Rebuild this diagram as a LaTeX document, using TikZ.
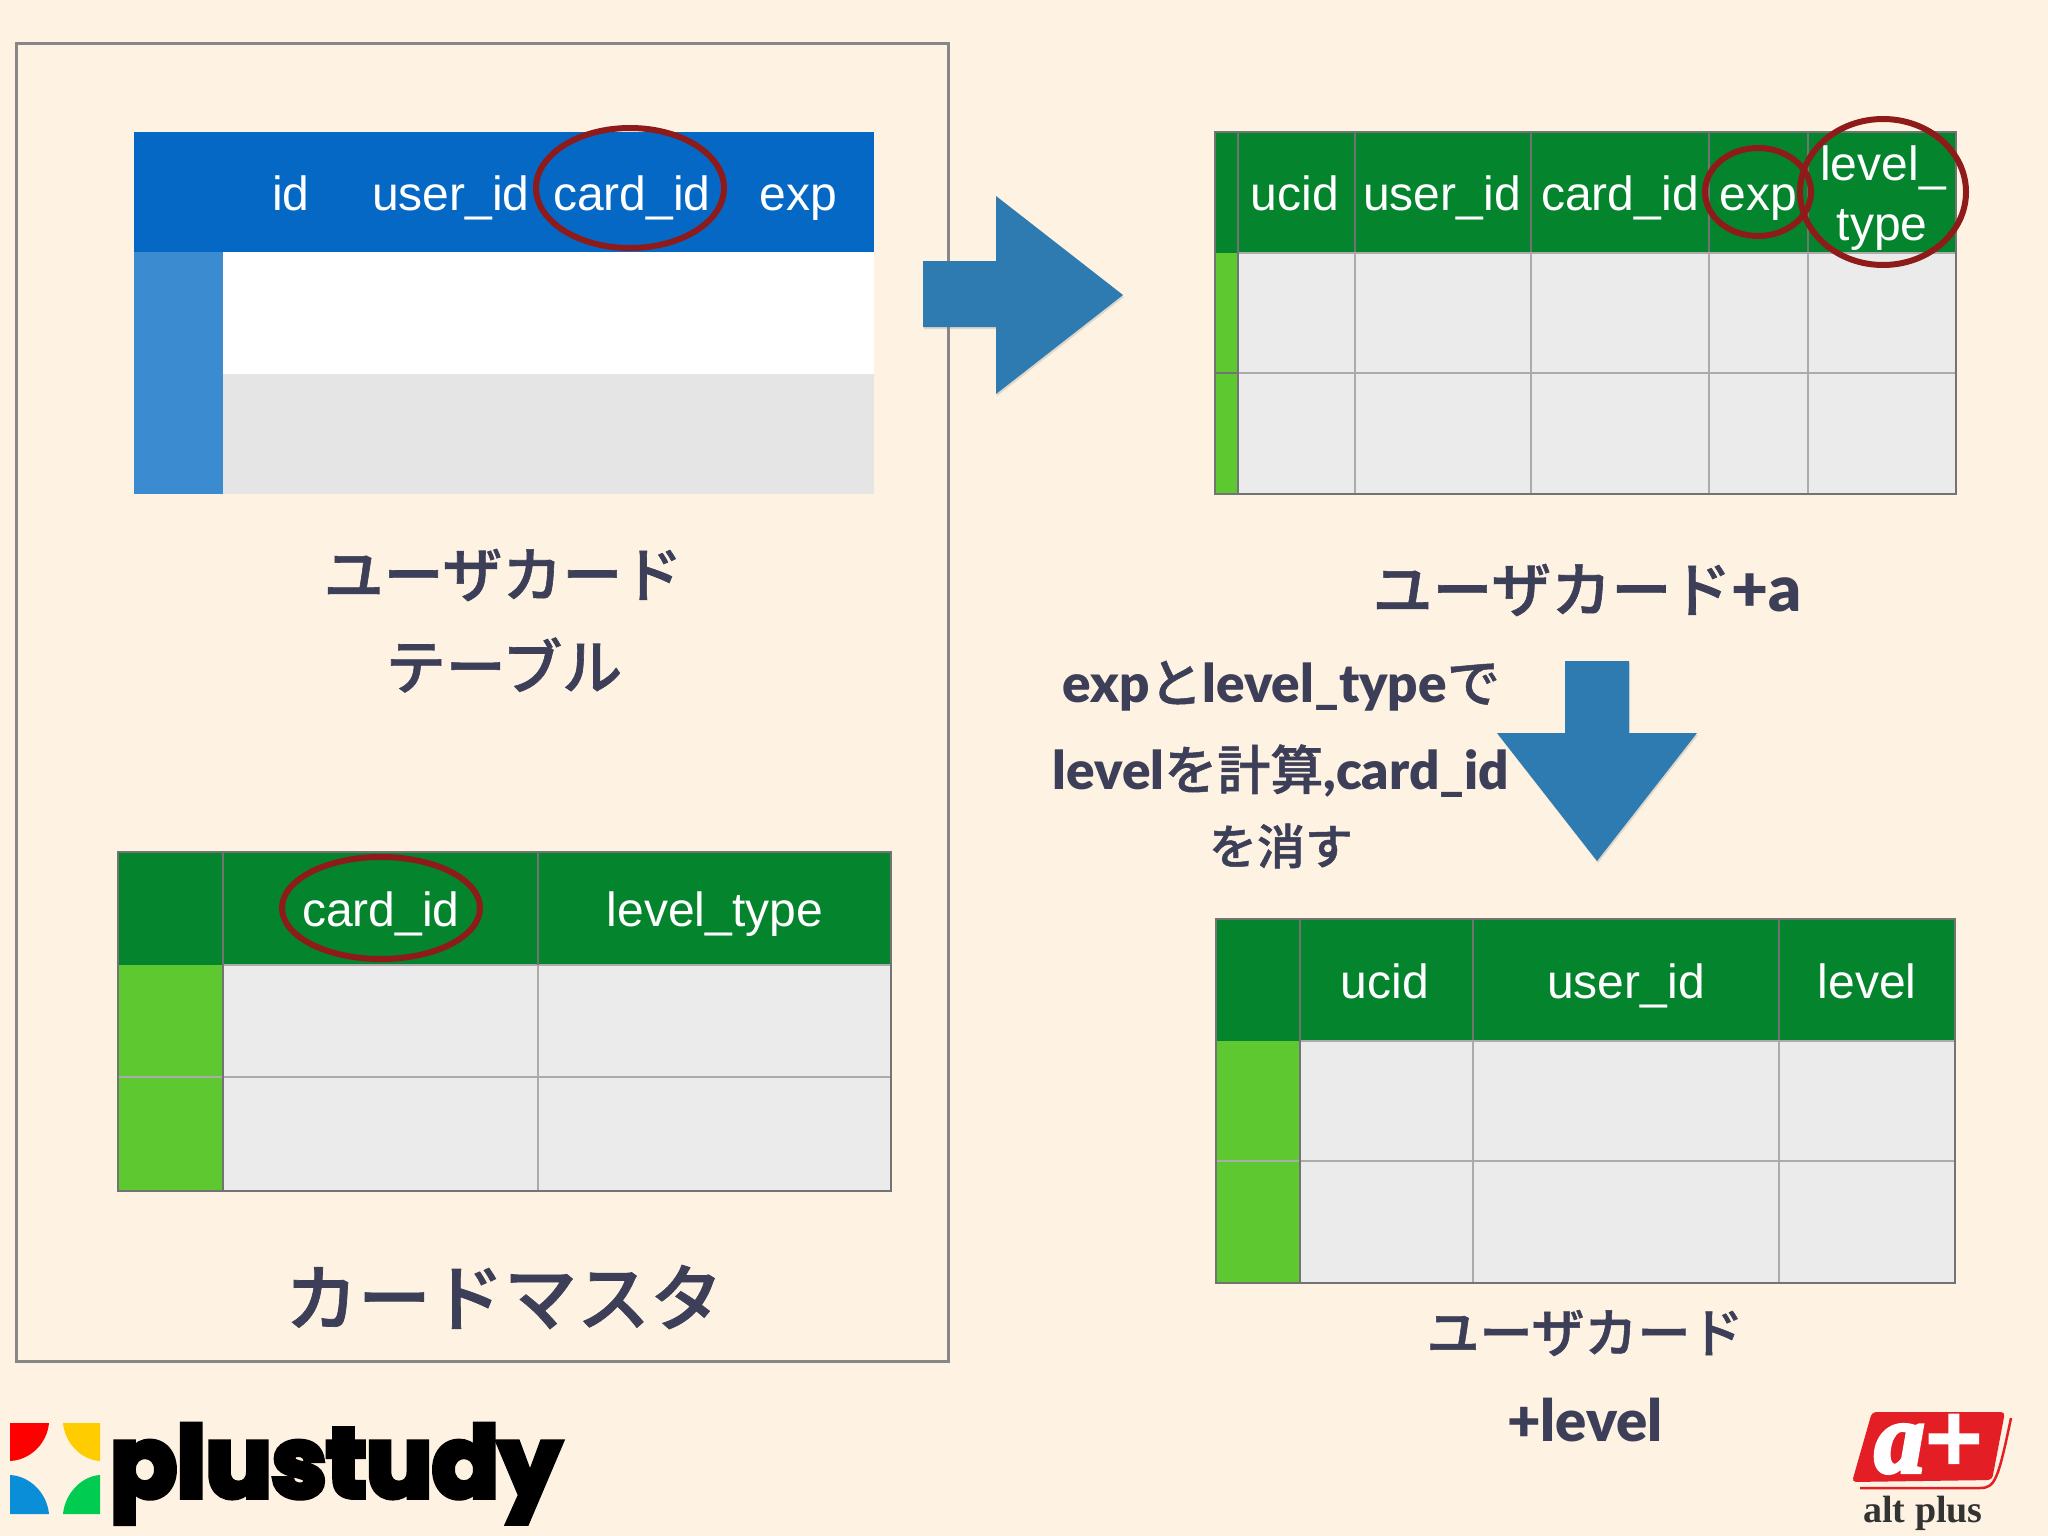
\documentclass[tikz,border=0pt]{standalone}
\usepackage{fontspec}
\usetikzlibrary{shapes.geometric,shadows}
\setmainfont[BoldFont=Lato Black]{Lato}
\newfontfamily\cellfont{Liberation Sans}
\newfontfamily\jpfont[BoldFont=Noto Sans CJK JP Medium,BoldFeatures={FakeBold=1}]{Noto Sans CJK JP}
\newfontfamily\logofont[FakeBold=6]{Poppins}
\newfontfamily\altfont{Liberation Serif}
\newfontfamily\aplusfont[FakeBold=4]{Liberation Serif}
\definecolor{paper}{HTML}{FEF3E2}
\definecolor{hdblue}{HTML}{0568C5}
\definecolor{sideblue}{HTML}{3B8BD0}
\definecolor{hdgreen}{HTML}{04842C}
\definecolor{sidegreen}{HTML}{5EC831}
\definecolor{cellgrey}{HTML}{EBEBEB}
\definecolor{linegrey}{HTML}{ABABAB}
\definecolor{ringred}{HTML}{8E1A1A}
\definecolor{arrowblue}{HTML}{2E7BB2}
\definecolor{ink}{HTML}{3D3F58}
\definecolor{altred}{HTML}{E31E24}
\begin{document}
\begin{tikzpicture}[x=1pt,y=-1pt]
\tikzstyle{cell}=[anchor=base, inner sep=0pt, text=white, font=\cellfont\fontsize{48}{50}\selectfont]
\tikzstyle{ring}=[ellipse, draw=ringred, line width=6pt, inner sep=0pt]
\tikzstyle{big}=[inner sep=0pt, text=ink, font=\bfseries\fontsize{53}{58}\selectfont]
\tikzstyle{grid}=[draw=linegrey, line width=1.5pt]
\tikzstyle{rim}=[draw=black!55, line width=2pt]
\tikzstyle{arrow}=[fill=arrowblue, drop shadow={shadow xshift=1pt, shadow yshift=-2pt, opacity=.25}]
\useasboundingbox (0,0) rectangle (2048,1536);
\fill[paper] (0,0) rectangle (2048,1536);
\draw[draw=black!47, line width=3pt] (16,44) rectangle (948,1361);
% blue table
\fill[hdblue] (134,132) rectangle (874,252);
\fill[white] (223,252) rectangle (874,374);
\fill[black!10] (223,374) rectangle (874,494);
\fill[sideblue] (134,252) rectangle (223,494);
\node[cell] (bid) at (291,210){id};
\node[cell] (buser) at (451,210){user\_id};
\node[cell] (bcard) at (632,210){card\_id};
\node[cell] (bexp) at (798,210){exp};
% green table, top right
\fill[hdgreen] (1215,132) rectangle (1956,253);
\fill[cellgrey] (1238,253) rectangle (1956,494);
\fill[sidegreen] (1215,253) rectangle (1238,494);
\foreach \i in {1355,1531,1709,1808}{
	\draw[grid] (\i,253) -- (\i,494);
	\draw[rim] (\i,132) -- (\i,253);}
\draw[grid] (1238,373) -- (1956,373);
\draw[grid] (1238,253) -- (1956,253);
\draw[rim] (1215,373) -- (1238,373);
\draw[rim] (1238,132) -- (1238,494);
\draw[rim] (1215,132) rectangle (1956,494);
\node[cell] (tucid) at (1295,210){ucid};
\node[cell] (tuser) at (1442,210){user\_id};
\node[cell] (tcard) at (1620,210){card\_id};
\node[cell] (texp) at (1758,210){exp};
\node[cell] (tlevel) at (1883,180){level\_};
\node[cell] (ttype) at (1882,240){type};
% green table, bottom left
\fill[hdgreen] (118,852) rectangle (891,965);
\fill[cellgrey] (223,965) rectangle (891,1191);
\fill[sidegreen] (118,965) rectangle (223,1191);
\draw[grid] (538,965) -- (538,1191);
\draw[grid] (118,1077) -- (891,1077);
\draw[grid] (223,965) -- (891,965);
\draw[rim] (538,852) -- (538,965);
\draw[rim] (223,852) -- (223,1191);
\draw[rim] (118,852) rectangle (891,1191);
\node[cell] (mcard) at (381,926){card\_id};
\node[cell] (mlevel) at (715,926){level\_type};
% green table, bottom right
\fill[hdgreen] (1216,919) rectangle (1955,1041);
\fill[cellgrey] (1300,1041) rectangle (1955,1283);
\fill[sidegreen] (1216,1041) rectangle (1300,1283);
\foreach \i in {1473,1779}{
	\draw[grid] (\i,1041) -- (\i,1283);
	\draw[rim] (\i,919) -- (\i,1041);}
\draw[grid] (1216,1161) -- (1955,1161);
\draw[grid] (1300,1041) -- (1955,1041);
\draw[rim] (1300,919) -- (1300,1283);
\draw[rim] (1216,919) rectangle (1955,1283);
\node[cell] (ducid) at (1385,998){ucid};
\node[cell] (duser) at (1626,998){user\_id};
\node[cell] (dlevel) at (1867,998){level};
% rings
\node[ring, minimum width=188pt, minimum height=120pt] (rb) at (630,188){};
\node[ring, minimum width=106pt, minimum height=88pt] (re) at (1758,192){};
\node[ring, minimum width=166pt, minimum height=146pt] (rl) at (1883,192){};
\node[ring, minimum width=198pt, minimum height=102pt] (rm) at (381,908){};
% arrows
\fill[arrow] (923,261) -- (996,261) -- (996,196) -- (1123,295) -- (996,394) -- (996,327) -- (923,327) -- cycle;
\fill[arrow] (1565,661) -- (1629,661) -- (1629,733) -- (1697,733) -- (1597,861) -- (1497,733) -- (1565,733) -- cycle;
% labels
\node[big, font=\bfseries\jpfont\fontsize{60}{60}\selectfont] (l1) at (503,575){ユーザカード};
\node[big, font=\bfseries\jpfont\fontsize{60}{60}\selectfont] (l2) at (504,665){テーブル};
\node[big, font=\bfseries\jpfont\fontsize{73}{73}\selectfont] (l3) at (504,1297){カードマスタ};
\node[big, font=\bfseries\fontsize{60}{62}\selectfont] (l4) at (1587,590){{\jpfont ユーザカード}{\fontsize{64}{62}\selectfont +a}};
\node[big] (l5) at (1281,686){exp{\jpfont と}level\_type{\jpfont で}};
\node[big] (l6) at (1281,771){level{\jpfont を計算},card\_id};
\node[big, font=\bfseries\jpfont\fontsize{48}{50}\selectfont] (l7) at (1281,846){を消す};
\node[big, font=\bfseries\jpfont\fontsize{53}{54}\selectfont] (l8) at (1585,1333){ユーザカード};
\node[big, font=\bfseries\fontsize{58}{60}\selectfont] (l9) at (1585,1420){+level};
% plustudy logo
\fill[fill=red!100!blue] (10,1423) -- (49,1423) .. controls (47,1444) and (30,1460) .. (10,1461) -- cycle;
\fill[fill=orange!40!yellow] (100,1423) -- (63,1423) .. controls (65,1444) and (82,1460) .. (100,1461) -- cycle;
\fill[fill=cyan!75!blue] (10,1514) -- (49,1514) .. controls (47,1493) and (30,1476) .. (10,1475) -- cycle;
\fill[fill=green!60!cyan!80!black] (100,1514) -- (63,1514) .. controls (65,1493) and (82,1476) .. (100,1475) -- cycle;
\node[anchor=base west, inner sep=0pt, text=black, font=\logofont\bfseries\fontsize{98}{98}\selectfont] (plogo) at (110,1497){plustudy};
% alt plus logo
\fill[altred, rounded corners=4pt] (1872,1412) -- (2005,1412) -- (1992,1480) -- (1852,1482) -- cycle;
\draw[altred, line width=2.5pt] (1860,1488) -- (1980,1488) .. controls (1995,1488) and (1998,1480) .. (2011,1418);
\node[anchor=base, inner sep=0pt, text=white, text depth=0pt, font=\aplusfont\bfseries\itshape\fontsize{100}{100}\selectfont] (aplus) at (1928,1472){a+};
\node[anchor=base, inner sep=0pt, text=black!80, font=\altfont\bfseries\fontsize{38}{38}\selectfont] (alogo) at (1923,1522){alt plus};
\end{tikzpicture}
\end{document}
